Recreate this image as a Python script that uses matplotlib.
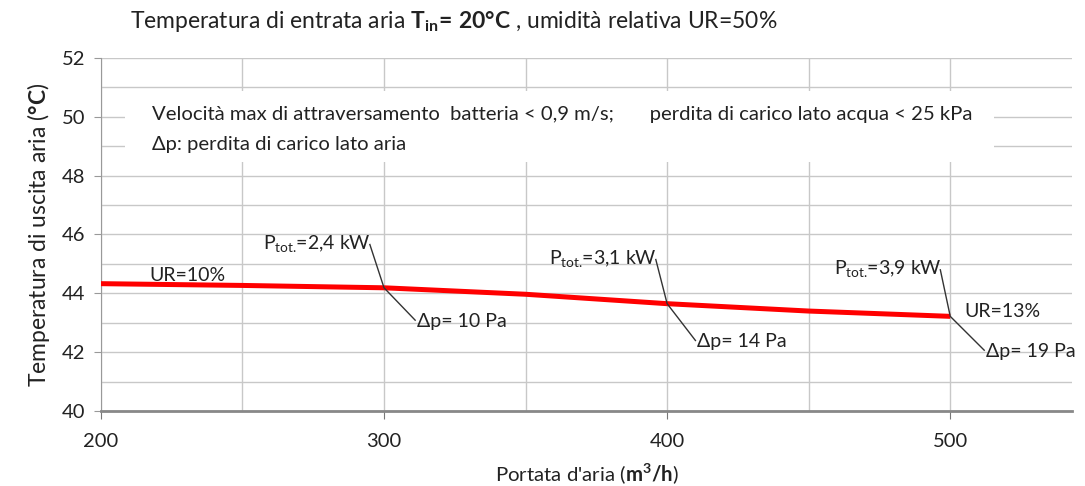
import matplotlib.pyplot as plt
from matplotlib.patches import Rectangle

plt.rcParams['font.family'] = ['Lato', 'DejaVu Sans']
plt.rcParams['mathtext.fontset'] = 'custom'
plt.rcParams['mathtext.rm'] = 'Lato'
plt.rcParams['mathtext.it'] = 'Lato:italic'
plt.rcParams['mathtext.bf'] = 'Lato:bold'

# data
portata = [200, 250, 300, 350, 400, 450, 500]
temperatura = [44.33, 44.27, 44.19, 43.97, 43.65, 43.40, 43.22]

punti_portata = [300, 400, 500]
potenze = ['2,4', '3,1', '3,9']
perdite_aria = [10, 14, 19]

x_ticks = [200, 300, 400, 500]
y_ticks = [40, 42, 44, 46, 48, 50, 52]

text_color = '#222222'
grid_color = '#c8c8c8'

fig = plt.figure(figsize=(10.85, 4.86), dpi=100)
ax = fig.add_axes([0.093, 0.154, 0.895, 0.727])

ax.plot(portata, temperatura, color='#ff0000', linewidth=3.6, zorder=4, solid_capstyle='butt')

ax.set_xlim(200, 543)
ax.set_ylim(40, 52)
ax.set_xticks(x_ticks)
ax.set_xticks([250, 350, 450], minor=True)
ax.set_yticks(y_ticks)
ax.set_yticks(range(41, 52, 2), minor=True)
ax.grid(True, which='both', color=grid_color, linewidth=1)
ax.tick_params(axis='x', which='major', length=6, color='#777777', labelsize=14.5,
               labelcolor=text_color, pad=10)
ax.tick_params(axis='x', which='minor', length=0)
ax.tick_params(axis='y', which='major', length=5, color='#999999', labelsize=14.5,
               labelcolor=text_color, pad=6)
ax.tick_params(axis='y', which='minor', length=0)

for s in ['top', 'right']:
    ax.spines[s].set_visible(False)
ax.spines['left'].set_color('#999999')
ax.spines['bottom'].set_color('#888888')
ax.spines['bottom'].set_linewidth(2)

ax.set_xlabel("Portata d'aria ($\\mathbf{m^3/h}$)", fontsize=14.7, color=text_color, labelpad=8)
ax.set_ylabel("Temperatura di uscita aria ($\\mathbf{°C}$)", fontsize=16.5, color=text_color, labelpad=7)

fig.text(0.12, 0.955,
         "Temperatura di entrata aria $\\mathbf{T_{in}\\!{=}\\,20°C}$ , umidità relativa UR=50%",
         fontsize=16.5, color=text_color, va='center', ha='left')

# white box with notes
ax.add_patch(Rectangle((0.025, 0.705), 0.895, 0.2, transform=ax.transAxes,
                       facecolor='white', edgecolor='none', zorder=3))
ax.text(0.053, 0.84, "Velocità max di attraversamento  batteria < 0,9 m/s;       perdita di carico lato acqua < 25 kPa",
        transform=ax.transAxes, fontsize=14.6, color=text_color, va='center', zorder=5)
ax.text(0.053, 0.755, "Δp: perdita di carico lato aria",
        transform=ax.transAxes, fontsize=14.6, color=text_color, va='center', zorder=5)

# leader lines and labels
offsets_top = [(-5, 1.47), (-4, 1.50), (-3.5, 1.58)]
offsets_bot = [(11, -1.1), (10, -1.25), (12, -1.15)]
for x, p, dp, (dxt, dyt), (dxb, dyb) in zip(punti_portata, potenze, perdite_aria, offsets_top, offsets_bot):
    y = temperatura[portata.index(x)]
    ax.plot([x + dxt, x, x + dxb], [y + dyt, y, y + dyb], color='#333333', linewidth=1, zorder=5)
    ax.text(x + dxt + 0.5, y + dyt + 0.05, "$\\mathrm{P_{tot.}\\!}$=" + p + " kW", fontsize=14,
            color=text_color, ha='right', va='center', zorder=6)
    ax.text(x + dxb + 0.5, y + dyb - 0.05, "Δp= %d Pa" % dp, fontsize=14,
            color=text_color, ha='left', va='center', zorder=6)

ax.text(217, 44.6, "UR=10%", fontsize=14, color=text_color, ha='left', va='center', zorder=6)
ax.text(505, 43.4, "UR=13%", fontsize=14, color=text_color, ha='left', va='center', zorder=6)

fig.savefig('out.png', dpi=100)
